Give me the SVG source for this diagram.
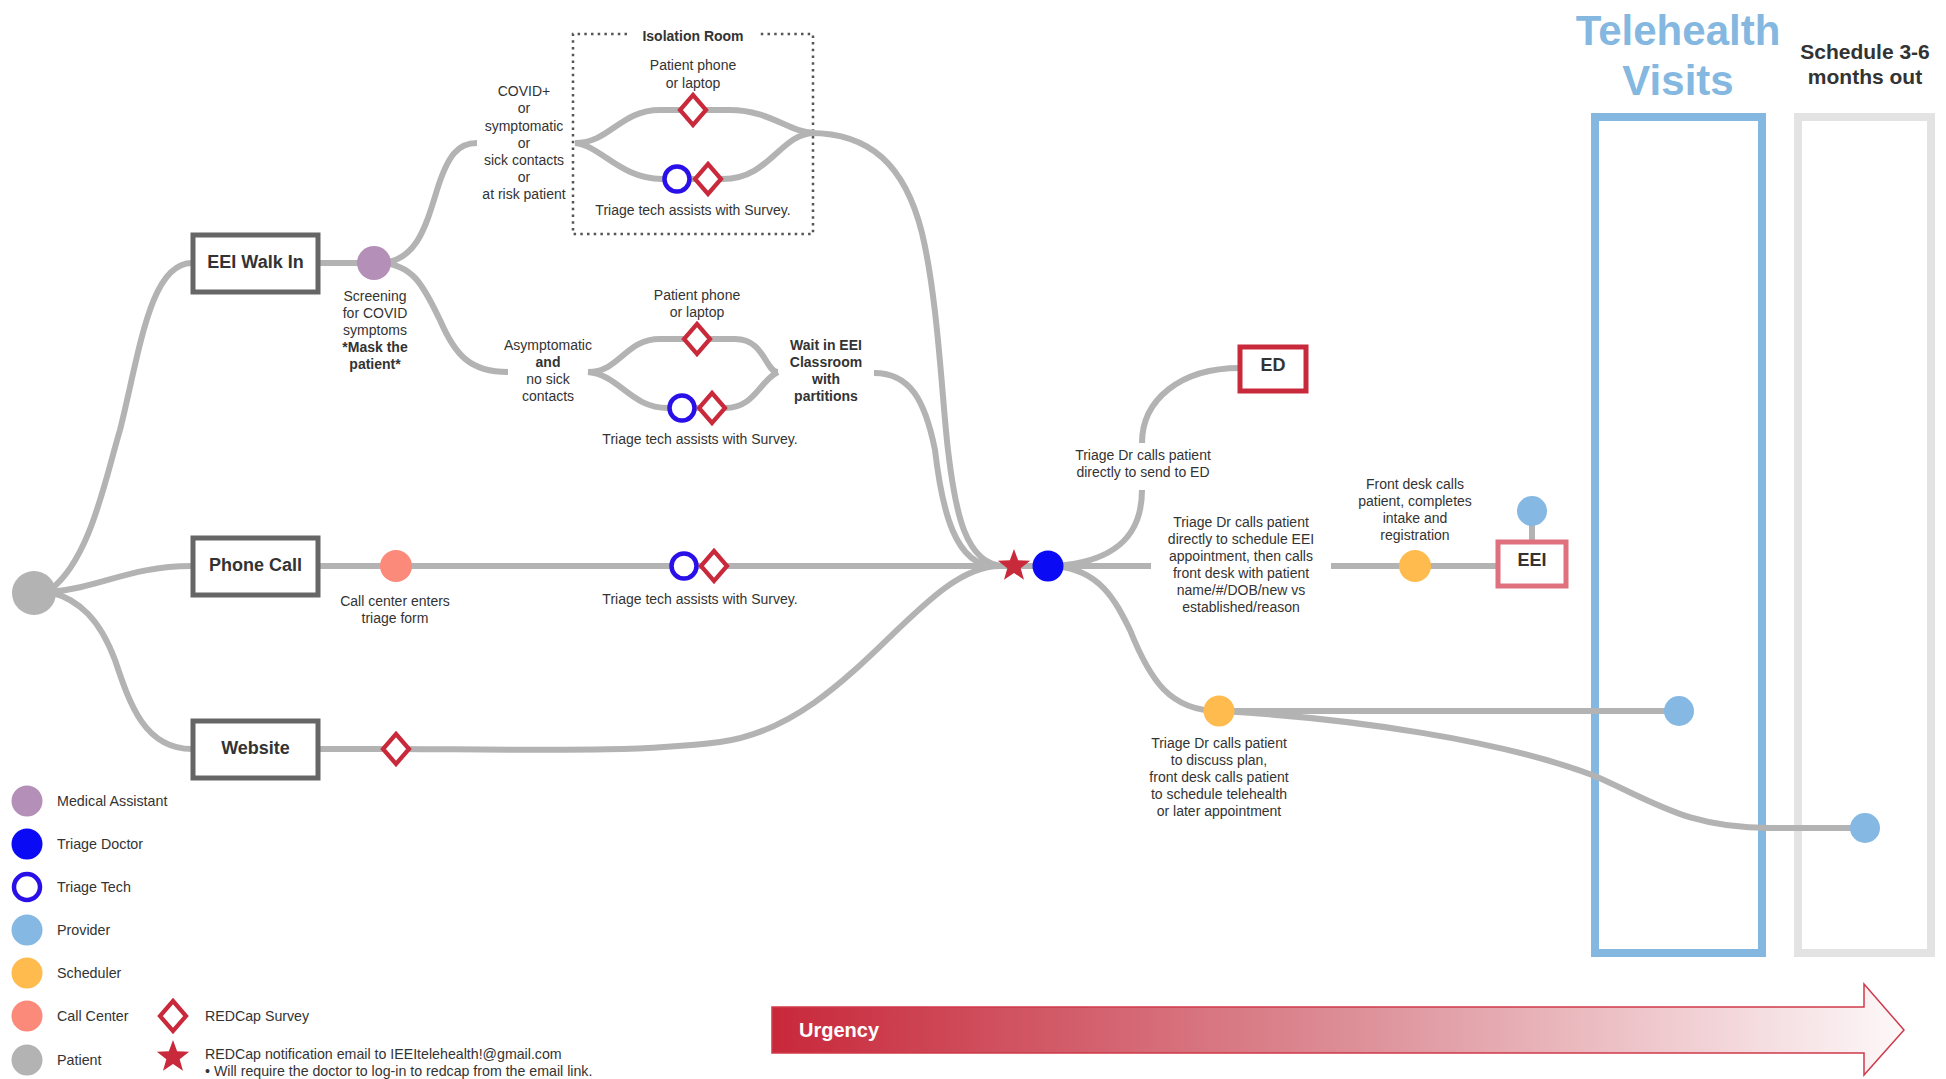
<svg xmlns="http://www.w3.org/2000/svg" xmlns:xlink="http://www.w3.org/1999/xlink" width="1946" height="1079" viewBox="0 0 1946 1079">
<style>
text{font-family:"Liberation Sans",Arial,sans-serif;fill:#333}
.t{font-size:14px;text-anchor:middle}
.b{font-weight:bold}
.lg{font-size:14.3px}
.note{font-size:14.2px}
.box{fill:#fff;stroke:#666;stroke-width:5}
.bt{font-size:18px;font-weight:bold;text-anchor:middle}
.ln{fill:none;stroke:#b3b3b3;stroke-width:6}
.ring{fill:#fff;stroke:#2a10e8;stroke-width:4.5}
</style>
<defs>
<path id="dia" d="M0,-15 L13,0 L0,15 L-13,0Z" fill="#fff" stroke="#c92a3b" stroke-width="4.2"/>
<polygon id="star" points="0,-17 4.11,-5.66 16.17,-5.25 6.66,2.16 9.99,13.75 0,7 -9.99,13.75 -6.66,2.16 -16.17,-5.25 -4.11,-5.66" fill="#c92a3b"/>
<linearGradient id="urg" gradientUnits="userSpaceOnUse" x1="772" y1="0" x2="1904" y2="0">
<stop offset="0" stop-color="#c8283a"/>
<stop offset="0.5" stop-color="#dc8c95"/>
<stop offset="1" stop-color="#fdf8f9"/>
</linearGradient>
</defs>
<rect width="1946" height="1079" fill="#fff"/>

<!-- columns -->
<g id="telehealth">
<rect x="1595" y="117" width="167" height="836" fill="none" stroke="#85b8e0" stroke-width="8"/>
<text x="1678" y="45" font-size="42" font-weight="bold" text-anchor="middle" style="fill:#85b8e0">Telehealth</text>
<text x="1678" y="95" font-size="42" font-weight="bold" text-anchor="middle" style="fill:#85b8e0">Visits</text>
</g>
<g id="schedule-later">
<rect x="1798" y="117" width="133" height="836" fill="none" stroke="#e3e3e3" stroke-width="8"/>
<text x="1865" y="59" font-size="21" font-weight="bold" text-anchor="middle">Schedule 3-6</text>
<text x="1865" y="84" font-size="21" font-weight="bold" text-anchor="middle">months out</text>
</g>

<g id="isolation-room">
<path d="M627 34 H573 V234 H813 V34 H758" fill="none" stroke="#555" stroke-width="2.5" stroke-dasharray="2.5 4.2"/>
<text class="t b" x="693" y="41">Isolation Room</text>
</g>

<!-- connectors -->
<g id="connectors">
<path class="ln" d="M50 590 C90 560 105 480 120 430 C140 350 150 263 192 263"/>
<path class="ln" d="M50 592 C100 588 130 566 192 566"/>
<path class="ln" d="M50 592 C80 600 100 620 115 660 C130 705 145 749 192 749"/>
<path class="ln" d="M318 263 L385 263"/>
<path class="ln" d="M380 263 C415 262 425 230 437 190 C448 155 458 143 477 143"/>
<path class="ln" d="M380 263 C415 264 425 290 440 320 C455 355 470 372 508 372"/>
<path class="ln" d="M575 143 C610 143 620 110 660 110 L730 110 C770 110 790 133 815 133"/>
<path class="ln" d="M575 143 C600 145 620 179 662 179 L723 179 C770 179 780 133 815 133"/>
<path class="ln" d="M810 133 C870 133 905 165 922 233 C938 300 942 400 948 450 C955 510 965 566 1005 566"/>
<path class="ln" d="M588 372 C620 372 625 339 660 339 L735 339 C765 339 765 372 778 372"/>
<path class="ln" d="M588 372 C620 375 630 408 668 408 L725 408 C755 408 760 380 778 372"/>
<path class="ln" d="M874 373 C910 373 925 400 935 450 C942 510 955 566 995 566"/>
<path class="ln" d="M318 566 L1050 566"/>
<path class="ln" d="M318 749 L400 749 C560 750 640 752 720 742 C850 725 920 566 1000 566"/>
<path class="ln" d="M1048 566 L1151 566"/>
<path class="ln" d="M1055 566 C1110 562 1142 540 1142 490"/>
<path class="ln" d="M1142 443 C1142 400 1180 368 1240 368"/>
<path class="ln" d="M1055 566 C1100 570 1115 600 1130 630 C1150 680 1170 711 1219 711"/>
<path class="ln" d="M1331 566 L1498 566"/>
<path class="ln" d="M1532 512 L1532 540"/>
<path class="ln" d="M1219 711 L1679 711"/>
<path class="ln" d="M1219 711 C1350 718 1500 740 1595 776 C1660 805 1690 828 1770 828 L1865 828"/>
</g>

<!-- nodes -->
<g id="patient"><circle cx="34" cy="593" r="22" fill="#b3b3b3"/></g>

<g id="eei-walk-in">
<rect class="box" x="193" y="235" width="125" height="57"/>
<text class="bt" x="255.5" y="267.5">EEI Walk In</text>
</g>
<g id="phone-call">
<rect class="box" x="193" y="538" width="125" height="57"/>
<text class="bt" x="255.5" y="570.5">Phone Call</text>
</g>
<g id="website">
<rect class="box" x="193" y="721" width="125" height="57"/>
<text class="bt" x="255.5" y="753.5">Website</text>
</g>

<g id="screening">
<circle cx="374" cy="263" r="17" fill="#b48fb8"/>
<text class="t" x="375" y="301">Screening</text>
<text class="t" x="375" y="318">for COVID</text>
<text class="t" x="375" y="335">symptoms</text>
<text class="t b" x="375" y="352">*Mask the</text>
<text class="t b" x="375" y="369">patient*</text>
</g>

<g id="covid-label">
<text class="t" x="524" y="96">COVID+</text>
<text class="t" x="524" y="113">or</text>
<text class="t" x="524" y="130.5">symptomatic</text>
<text class="t" x="524" y="147.5">or</text>
<text class="t" x="524" y="164.5">sick contacts</text>
<text class="t" x="524" y="181.5">or</text>
<text class="t" x="524" y="198.5">at risk patient</text>
</g>

<g id="iso-phone">
<use xlink:href="#dia" x="693" y="110"/>
<text class="t" x="693" y="70">Patient phone</text>
<text class="t" x="693" y="88">or laptop</text>
</g>
<g id="iso-tech">
<circle class="ring" cx="677" cy="179" r="12.5"/>
<use xlink:href="#dia" x="708" y="179"/>
<text class="t" x="693" y="215">Triage tech assists with Survey.</text>
</g>

<g id="asym-label">
<text class="t" x="548" y="350">Asymptomatic</text>
<text class="t b" x="548" y="367">and</text>
<text class="t" x="548" y="384">no sick</text>
<text class="t" x="548" y="401">contacts</text>
</g>
<g id="asym-phone">
<use xlink:href="#dia" x="697" y="339"/>
<text class="t" x="697" y="300">Patient phone</text>
<text class="t" x="697" y="317">or laptop</text>
</g>
<g id="asym-tech">
<circle class="ring" cx="682" cy="408" r="12.5"/>
<use xlink:href="#dia" x="712" y="408"/>
<text class="t" x="700" y="444">Triage tech assists with Survey.</text>
</g>
<g id="wait-classroom">
<text class="t b" x="826" y="350">Wait in EEI</text>
<text class="t b" x="826" y="367">Classroom</text>
<text class="t b" x="826" y="384">with</text>
<text class="t b" x="826" y="401">partitions</text>
</g>

<g id="call-center">
<circle cx="396" cy="566" r="16" fill="#fb8a7a"/>
<text class="t" x="395" y="606">Call center enters</text>
<text class="t" x="395" y="623">triage form</text>
</g>
<g id="phone-tech">
<circle class="ring" cx="684" cy="566" r="12.5"/>
<use xlink:href="#dia" x="714" y="566"/>
<text class="t" x="700" y="604">Triage tech assists with Survey.</text>
</g>
<g id="website-survey"><use xlink:href="#dia" x="396" y="749"/></g>

<g id="notification"><use xlink:href="#star" x="1014" y="566"/></g>
<g id="triage-doctor"><circle cx="1048" cy="566" r="15.5" fill="#0a0af5"/></g>

<g id="ed-label">
<text class="t" x="1143" y="460">Triage Dr calls patient</text>
<text class="t" x="1143" y="477">directly to send to ED</text>
</g>
<g id="ed">
<rect x="1240" y="347" width="66" height="44" fill="#fff" stroke="#c92a3b" stroke-width="5"/>
<text class="bt" x="1273" y="371">ED</text>
</g>

<g id="schedule-eei-label">
<text class="t" x="1241" y="527">Triage Dr calls patient</text>
<text class="t" x="1241" y="544">directly to schedule EEI</text>
<text class="t" x="1241" y="561">appointment, then calls</text>
<text class="t" x="1241" y="578">front desk with patient</text>
<text class="t" x="1241" y="595">name/#/DOB/new vs</text>
<text class="t" x="1241" y="612">established/reason</text>
</g>
<g id="front-desk">
<circle cx="1415" cy="566" r="16" fill="#ffbb4d"/>
<text class="t" x="1415" y="489">Front desk calls</text>
<text class="t" x="1415" y="506">patient, completes</text>
<text class="t" x="1415" y="523">intake and</text>
<text class="t" x="1415" y="540">registration</text>
</g>
<g id="eei">
<rect x="1498" y="542" width="68" height="44" fill="#fff" stroke="#e0707e" stroke-width="5"/>
<text class="bt" x="1532" y="566">EEI</text>
</g>
<g id="eei-provider"><circle cx="1532" cy="511" r="15" fill="#85b8e3"/></g>

<g id="discuss-plan">
<circle cx="1219" cy="711" r="15.5" fill="#ffbb4d"/>
<text class="t" x="1219" y="748">Triage Dr calls patient</text>
<text class="t" x="1219" y="765">to discuss plan,</text>
<text class="t" x="1219" y="782">front desk calls patient</text>
<text class="t" x="1219" y="799">to schedule telehealth</text>
<text class="t" x="1219" y="816">or later appointment</text>
</g>
<g id="telehealth-provider"><circle cx="1679" cy="711" r="15" fill="#85b8e3"/></g>
<g id="later-provider"><circle cx="1865" cy="828" r="15" fill="#85b8e3"/></g>

<!-- legend -->
<g id="legend">
<circle cx="27" cy="801" r="15.5" fill="#b48fb8"/><text class="lg" x="57" y="806">Medical Assistant</text>
<circle cx="27" cy="844" r="15.5" fill="#0a0af5"/><text class="lg" x="57" y="849">Triage Doctor</text>
<circle cx="27" cy="887" r="13" fill="#fff" stroke="#2a10e8" stroke-width="4.5"/><text class="lg" x="57" y="892">Triage Tech</text>
<circle cx="27" cy="930" r="15.5" fill="#85b8e3"/><text class="lg" x="57" y="935">Provider</text>
<circle cx="27" cy="973" r="15.5" fill="#ffbb4d"/><text class="lg" x="57" y="978">Scheduler</text>
<circle cx="27" cy="1016" r="15.5" fill="#fb8a7a"/><text class="lg" x="57" y="1021">Call Center</text>
<circle cx="27" cy="1060" r="15.5" fill="#b3b3b3"/><text class="lg" x="57" y="1065">Patient</text>
<use xlink:href="#dia" x="173" y="1016"/><text class="note" x="205" y="1021">REDCap Survey</text>
<use xlink:href="#star" x="173" y="1057"/>
<text class="note" x="205" y="1059">REDCap notification email to IEEItelehealth!@gmail.com</text>
<text class="note" x="205" y="1076">• Will require the doctor to log-in to redcap from the email link.</text>
</g>

<g id="urgency">
<polygon points="772,1007 1864,1007 1864,984 1904,1030 1864,1075 1864,1053 772,1053" fill="url(#urg)" stroke="#cf3a4a" stroke-width="1.5"/>
<text x="799" y="1037" font-size="20" font-weight="bold" style="fill:#fff">Urgency</text>
</g>
</svg>
